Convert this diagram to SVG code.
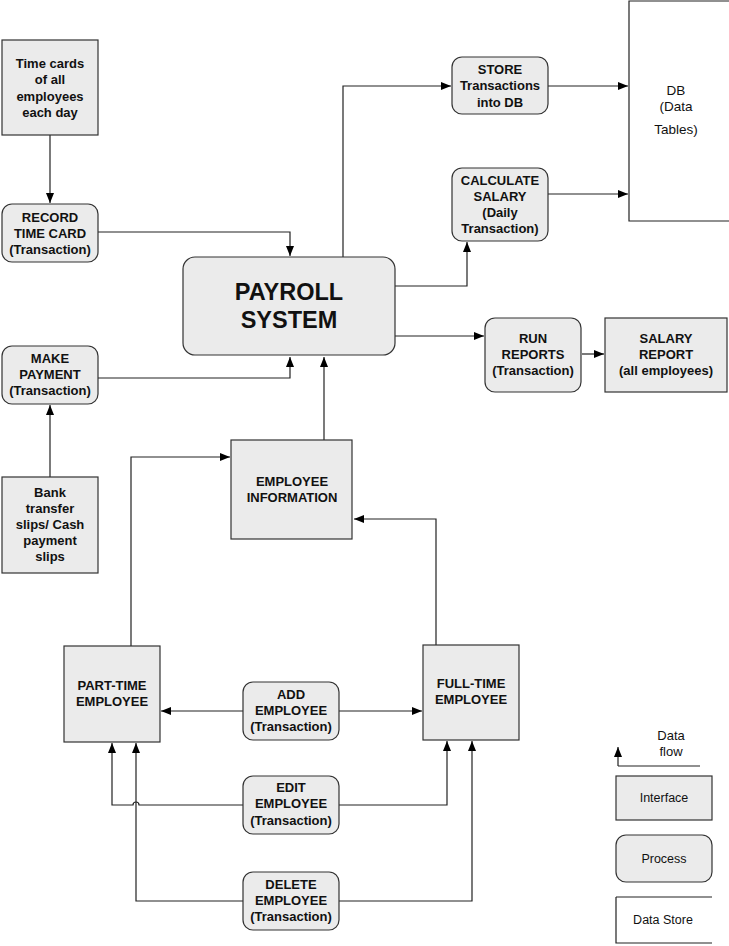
<svg xmlns="http://www.w3.org/2000/svg" width="729" height="946" viewBox="0 0 729 946">
<defs>
<marker id="ah" viewBox="0 0 10 8" refX="10" refY="4" markerWidth="10" markerHeight="8" markerUnits="userSpaceOnUse" orient="auto">
<path d="M0,0 L10,4 L0,8 Z" fill="#000"/>
</marker>
<style>
.box{fill:#ebebeb;stroke:#333;stroke-width:1.2}
.ds{fill:none;stroke:#222;stroke-width:1.2}
.c{fill:none;stroke:#222;stroke-width:1.2;marker-end:url(#ah)}
text{font-family:"Liberation Sans",Arial,sans-serif;text-anchor:middle;fill:#111}
.b{font-weight:bold;font-size:13px}
.r{font-size:13px}
.lg{font-size:12.5px}
.big{font-weight:bold;font-size:23.5px}
</style>
</defs>
<rect width="729" height="946" fill="#fff"/>
<g id="connectors">
<path class="c" d="M50,135 V203"/>
<path class="c" d="M98,232 H290 V256"/>
<path class="c" d="M98,378 H290 V357"/>
<path class="c" d="M50,477 V405"/>
<path class="c" d="M343,257 V86 H451"/>
<path class="c" d="M548,86 H628"/>
<path class="c" d="M548,194 H628"/>
<path class="c" d="M395,286 H467 V242"/>
<path class="c" d="M395,336 H484"/>
<path class="c" d="M582,354 H604"/>
<path class="c" d="M324,440 V357"/>
<path class="c" d="M131,646 V457 H230"/>
<path class="c" d="M436,645 V519 H354"/>
<path class="c" d="M243,711 H161"/>
<path class="c" d="M339,711 H422"/>
<path class="c" d="M243,805 H139 A3,3 0 0 0 133,805 H112 V743"/>
<path class="c" d="M339,805 H447 V741"/>
<path class="c" d="M243,901 H136 V743"/>
<path class="c" d="M339,901 H472 V741"/>
<path class="c" d="M618,766 H700 M618,766 V747"/>
</g>
<g id="timecards"><rect class="box" x="2" y="40" width="96" height="95"/>
<text class="b" x="50" y="68">Time cards</text><text class="b" x="50" y="84">of all</text><text class="b" x="50" y="101">employees</text><text class="b" x="50" y="117">each day</text></g>
<g id="record"><rect class="box" x="2" y="204" width="96" height="58" rx="10"/>
<text class="b" x="50" y="222">RECORD</text><text class="b" x="50" y="238">TIME CARD</text><text class="b" x="50" y="254">(Transaction)</text></g>
<g id="payroll"><rect class="box" x="183" y="257" width="212" height="98" rx="12"/>
<text class="big" x="289" y="300">PAYROLL</text><text class="big" x="289" y="328">SYSTEM</text></g>
<g id="makepayment"><rect class="box" x="2" y="346" width="96" height="58" rx="10"/>
<text class="b" x="50" y="363">MAKE</text><text class="b" x="50" y="379">PAYMENT</text><text class="b" x="50" y="395">(Transaction)</text></g>
<g id="bank"><rect class="box" x="2" y="477" width="96" height="96"/>
<text class="b" x="50" y="497">Bank</text><text class="b" x="50" y="513">transfer</text><text class="b" x="50" y="529">slips/ Cash</text><text class="b" x="50" y="545">payment</text><text class="b" x="50" y="561">slips</text></g>
<g id="store"><rect class="box" x="452" y="57" width="96" height="57" rx="10"/>
<text class="b" x="500" y="74">STORE</text><text class="b" x="500" y="90">Transactions</text><text class="b" x="500" y="107">into DB</text></g>
<g id="calculate"><rect class="box" x="452" y="168" width="96" height="73" rx="10"/>
<text class="b" x="500" y="185">CALCULATE</text><text class="b" x="500" y="201">SALARY</text><text class="b" x="500" y="217">(Daily</text><text class="b" x="500" y="233">Transaction)</text></g>
<g id="db"><path class="ds" d="M729,1 H629 V221 H729"/>
<text class="r" x="676" y="95" style="font-size:13.5px">DB</text><text class="r" x="676" y="111" style="font-size:13.5px">(Data</text><text class="r" x="676" y="134" style="font-size:13.5px">Tables)</text></g>
<g id="runreports"><rect class="box" x="485" y="318" width="96" height="74" rx="10"/>
<text class="b" x="533" y="343">RUN</text><text class="b" x="533" y="359">REPORTS</text><text class="b" x="533" y="375">(Transaction)</text></g>
<g id="salaryreport"><rect class="box" x="605" y="318" width="122" height="74"/>
<text class="b" x="666" y="343">SALARY</text><text class="b" x="666" y="359">REPORT</text><text class="b" x="666" y="375">(all employees)</text></g>
<g id="empinfo"><rect class="box" x="231" y="440" width="121" height="99"/>
<text class="b" x="292" y="486">EMPLOYEE</text><text class="b" x="292" y="502">INFORMATION</text></g>
<g id="parttime"><rect class="box" x="64" y="646" width="96" height="96"/>
<text class="b" x="112" y="690">PART-TIME</text><text class="b" x="112" y="706">EMPLOYEE</text></g>
<g id="fulltime"><rect class="box" x="423" y="645" width="96" height="95"/>
<text class="b" x="471" y="688">FULL-TIME</text><text class="b" x="471" y="704">EMPLOYEE</text></g>
<g id="add"><rect class="box" x="243" y="682" width="96" height="58" rx="10"/>
<text class="b" x="291" y="699">ADD</text><text class="b" x="291" y="715">EMPLOYEE</text><text class="b" x="291" y="731">(Transaction)</text></g>
<g id="edit"><rect class="box" x="243" y="776" width="96" height="58" rx="10"/>
<text class="b" x="291" y="792">EDIT</text><text class="b" x="291" y="808">EMPLOYEE</text><text class="b" x="291" y="825">(Transaction)</text></g>
<g id="delete"><rect class="box" x="243" y="872" width="96" height="58" rx="10"/>
<text class="b" x="291" y="889">DELETE</text><text class="b" x="291" y="905">EMPLOYEE</text><text class="b" x="291" y="921">(Transaction)</text></g>
<g id="legend">
<text class="r" x="671" y="740">Data</text><text class="r" x="671" y="756">flow</text>
<rect class="box" x="616" y="776" width="96" height="44"/><text class="lg" x="664" y="802">Interface</text>
<rect class="box" x="616" y="835" width="96" height="47" rx="10"/><text class="lg" x="664" y="863">Process</text>
<path class="ds" d="M616,897 H712 M616,897 V943 H712"/><text class="lg" x="663" y="924">Data Store</text>
</g>
</svg>
